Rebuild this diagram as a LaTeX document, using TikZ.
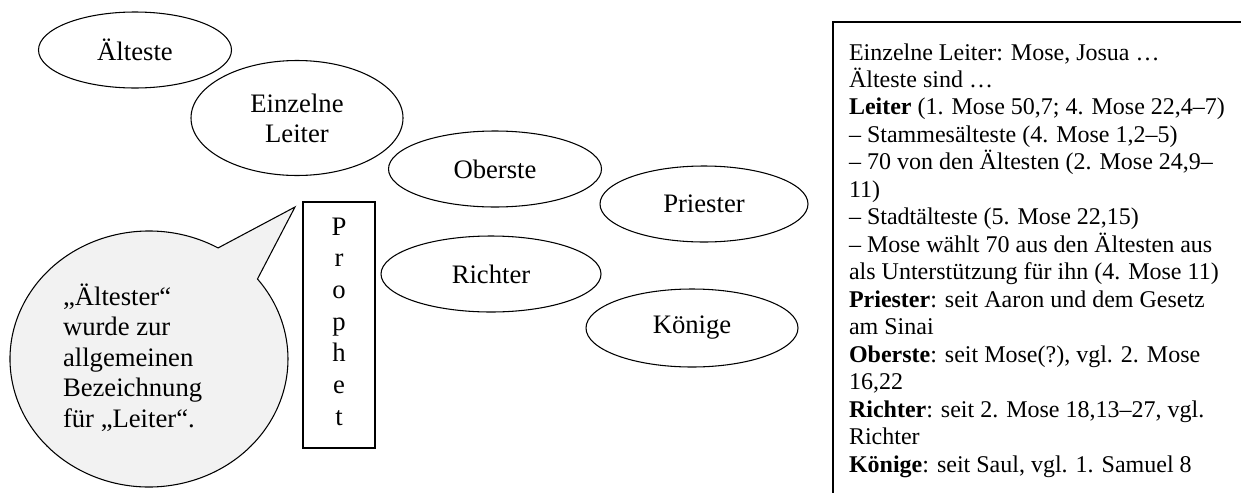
\documentclass[tikz,border=0pt]{standalone}
\usepackage{fontspec}
\setmainfont{Liberation Serif}
\usetikzlibrary{shapes.geometric,calc}
\definecolor{calloutfill}{HTML}{F2F2F2}
\begin{document}
\begin{tikzpicture}[x=0.75pt,y=-0.75pt,
  oval/.style={draw, ellipse, line width=0.8pt, inner sep=0pt, align=center,
    font=\fontsize{20}{22.5}\selectfont},
  plain/.style={inner sep=0pt, outer sep=0pt},
  edge/.style={line width=0.8pt}
]
\useasboundingbox (0,0) rectangle (1241,493);

% ovals
\node[oval, minimum width=144.75pt, minimum height=57pt] (aelteste) at (135,50) {Älteste};
\node[oval, minimum width=159pt, minimum height=86.25pt] (einzelne) at (297,118) {Einzelne\\Leiter};
\node[oval, minimum width=159.75pt, minimum height=57pt] (oberste) at (495,169) {Oberste};
\node[oval, minimum width=156pt, minimum height=57pt] (priester) at (704,204) {Priester};
\node[oval, minimum width=165pt, minimum height=57pt] (richter) at (491,274) {Richter};
\node[oval, minimum width=159pt, minimum height=58.5pt] (koenige) at (692,328) {Könige};

% prophet box
\node[draw, line width=0.8pt, plain, minimum width=54pt, minimum height=184.5pt] (prophet) at (339,325) {};
\node[plain, anchor=base, font=\fontsize{20}{23.75}\selectfont] (prophettext) at (339,235)
  {\vtop{\lineskiplimit=-100pt\halign{\hfil#\hfil\cr P\cr r\cr o\cr p\cr h\cr e\cr t\cr}}};

% callout
\coordinate (cc) at (149,359);
\coordinate (tip) at (295,207);
\draw[edge, fill=calloutfill] ($(cc)+(-38.7:139 and 128)$) -- (tip) -- ($(cc)+(-60.2:139 and 128)$)
  arc[start angle=-60.2, end angle=-398.7, x radius=139, y radius=128] -- cycle;
\node[plain, anchor=base west, font=\fontsize{20}{22.9}\selectfont] (callouttext) at (63,305)
  {\vtop{\lineskiplimit=-100pt
    \hbox{„Ältester“}
    \hbox{wurde zur}
    \hbox{allgemeinen}
    \hbox{Bezeichnung}
    \hbox{für „Leiter“.}}};

% info box (cut off at right and bottom)
\coordinate (boxtl) at (833,22);
\coordinate (boxtr) at (1241,22);
\coordinate (boxbl) at (833,493);
\draw[edge] (boxtr) -- (boxtl) -- (boxbl);
\node[plain, anchor=base west, font=\fontsize{18}{20.6}\selectfont] (infotext) at (849,60)
  {\vtop{\lineskiplimit=-100pt
    \hbox{Einzelne Leiter: Mose, Josua …}
    \hbox{Älteste sind …}
    \hbox{\textbf{Leiter} (1. Mose 50,7; 4. Mose 22,4–7)}
    \hbox{– Stammesälteste (4. Mose 1,2–5)}
    \hbox{– 70 von den Ältesten (2. Mose 24,9–}
    \hbox{11)}
    \hbox{– Stadtälteste (5. Mose 22,15)}
    \hbox{– Mose wählt 70 aus den Ältesten aus}
    \hbox{als Unterstützung für ihn (4. Mose 11)}
    \hbox{\textbf{Priester}: seit Aaron und dem Gesetz}
    \hbox{am Sinai}
    \hbox{\textbf{Oberste}: seit Mose(?), vgl. 2. Mose}
    \hbox{16,22}
    \hbox{\textbf{Richter}: seit 2. Mose 18,13–27, vgl.}
    \hbox{Richter}
    \hbox{\textbf{Könige}: seit Saul, vgl. 1. Samuel 8}}};
\end{tikzpicture}
\end{document}
